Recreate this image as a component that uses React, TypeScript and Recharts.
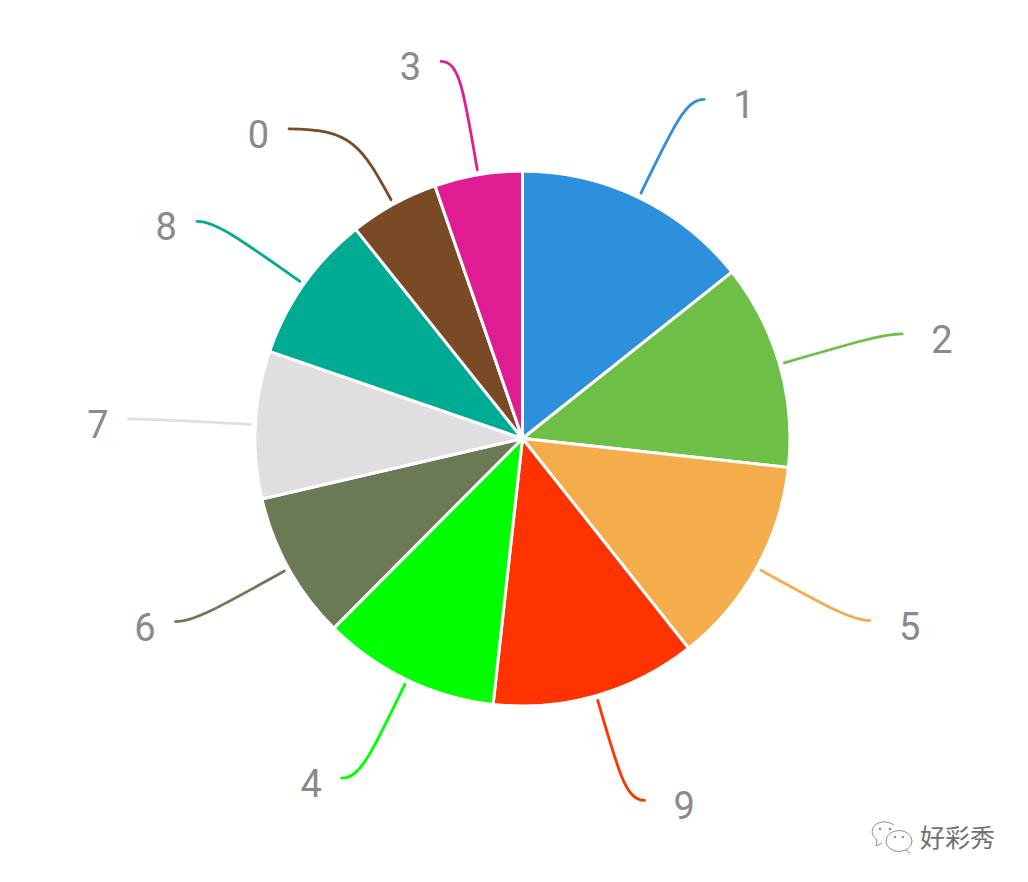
import { PieChart, Pie, Cell } from 'recharts'

const labels = ['1', '2', '5', '9', '4', '6', '7', '8', '0', '3']
const shares = [14.3, 12.4, 12.6, 12.4, 10.7, 8.9, 8.9, 9.0, 5.4, 5.3]
const colors = [
  '#2d90dc',
  '#6dbf45',
  '#f5ad4b',
  '#ff3300',
  '#00ff00',
  '#6b7a55',
  '#dfdfe1',
  '#00ab94',
  '#7a4a26',
  '#e01c93',
]

const data = labels.map((name, i) => ({ name, value: shares[i] }))

const LINE_START = 5
const LINE_BEND = 109
const LINE_RUN = 18
// slice 0 is pushed down the side so its leader bends earlier and runs longer, 3 sits a bit higher
const bendFor = (name: string) => (name === '0' ? 86 : name === '3' ? 115 : LINE_BEND)
const runFor = (name: string) => (name === '0' ? 63 : LINE_RUN)

function leader(cx: number, cy: number, r: number, midAngle: number, name: string) {
  const rad = (midAngle * Math.PI) / 180
  const dx = Math.cos(rad)
  const dy = -Math.sin(rad)
  const side = dx >= 0 ? 1 : -1
  const start = { x: cx + (r + LINE_START) * dx, y: cy + (r + LINE_START) * dy }
  const bend = { x: cx + (r + bendFor(name)) * dx, y: cy + (r + bendFor(name)) * dy }
  const end = { x: bend.x + side * runFor(name), y: bend.y }
  return { start, bend, end, side }
}

function LeaderLine(props: any) {
  const { cx, cy, outerRadius, midAngle, name, stroke } = props
  const { start, bend, end } = leader(cx, cy, outerRadius, midAngle, name)
  const c1x = start.x + (bend.x - start.x) * 0.75
  const c1y = start.y + (bend.y - start.y) * 0.75
  return (
    <path
      d={`M${start.x},${start.y} C${c1x},${c1y} ${bend.x},${bend.y} ${end.x},${end.y}`}
      fill="none"
      stroke={stroke}
      strokeWidth={2.8}
      strokeLinecap="round"
    />
  )
}

function SliceLabel(props: any) {
  const { cx, cy, outerRadius, midAngle, name } = props
  const { end, side } = leader(cx, cy, outerRadius, midAngle, name)
  return (
    <text
      x={end.x + (side > 0 ? 29 : -20)}
      y={end.y + 6}
      textAnchor={side > 0 ? 'start' : 'end'}
      dominantBaseline="central"
      fontFamily="Roboto, sans-serif"
      fontSize={38}
      fill="#8a8a8a"
    >
      {name}
    </text>
  )
}

function Watermark() {
  return (
    <div style={{ position: 'absolute', left: 870, top: 820, width: 130, height: 36 }}>
      <svg width={46} height={36} style={{ position: 'absolute', left: 0, top: 0 }}>
        <path
          d="M24,5 C17,0 6,1 3,8 C1,13 3,17 7,20 L6,26 L12,23"
          fill="none"
          stroke="#8f8f8f"
          strokeWidth={1}
        />
        <ellipse cx={29} cy={21} rx={13} ry={10.5} fill="none" stroke="#8f8f8f" strokeWidth={1} />
        <path d="M36,30 L40,33" fill="none" stroke="#8f8f8f" strokeWidth={1} />
        <circle cx={10} cy={9} r={1.3} fill="#8f8f8f" />
        <circle cx={20} cy={9} r={1.3} fill="#8f8f8f" />
        <circle cx={25} cy={17} r={1.2} fill="#8f8f8f" />
        <circle cx={33} cy={17} r={1.2} fill="#8f8f8f" />
      </svg>
      <span
        style={{
          position: 'absolute',
          left: 50,
          top: 0,
          fontFamily: '"Noto Sans CJK SC", sans-serif',
          fontSize: 25,
          lineHeight: '32px',
          color: '#707070',
          whiteSpace: 'nowrap',
        }}
      >
        好彩秀
      </span>
    </div>
  )
}

export default function App() {
  return (
    <div style={{ position: 'absolute', left: 0, top: 0, width: 1028, height: 882, background: '#fff' }}>
      <PieChart width={1028} height={882} margin={{ top: 0, right: 0, bottom: 0, left: 0 }}>
        <Pie
          data={data}
          dataKey="value"
          nameKey="name"
          cx={522.5}
          cy={438.5}
          innerRadius={0}
          outerRadius={267.5}
          startAngle={90}
          endAngle={-270}
          stroke="#fff"
          strokeWidth={3}
          label={SliceLabel}
          labelLine={LeaderLine}
          isAnimationActive={false}
        >
          {labels.map((name, i) => (
            <Cell key={name} fill={colors[i]} />
          ))}
        </Pie>
      </PieChart>
      <Watermark />
    </div>
  )
}
